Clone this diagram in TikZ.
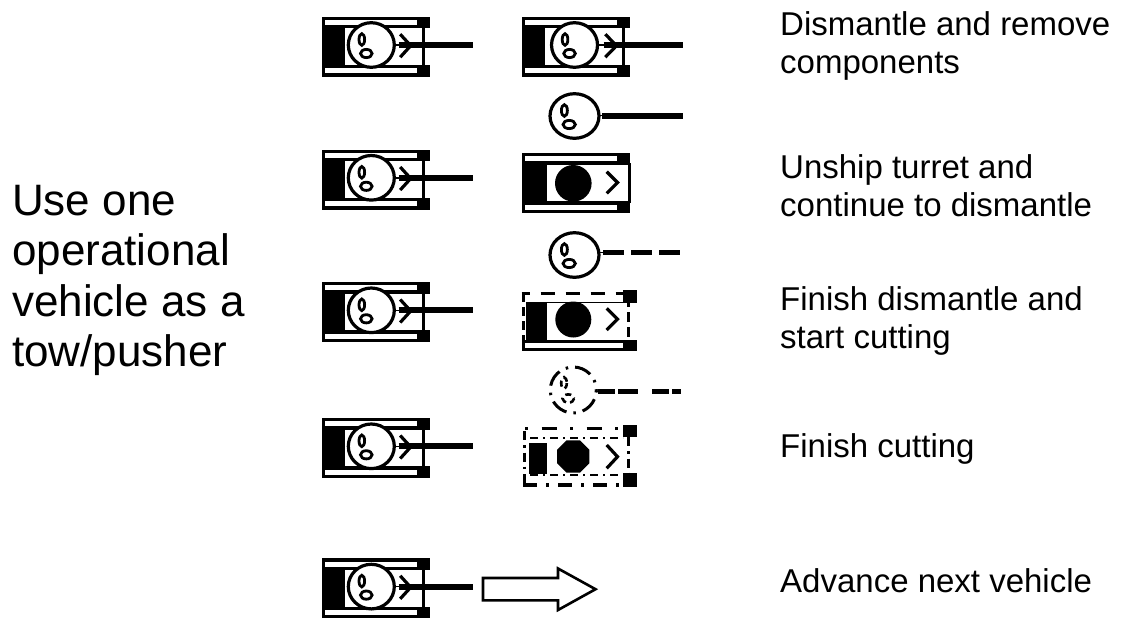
\documentclass[tikz,border=0pt]{standalone}
\usepackage{fontspec}
\setmainfont{Liberation Sans}
\tikzset{
  pics/track/.style={code={
    \draw[line width=3.4pt, fill=white] (1.7,1.7) rectangle (106,10);
    \fill (95,0) rectangle (108,11.7);
  }},
  pics/hull/.style={code={
    \pic at (0,0) {track};
    \pic at (0,48.3) {track};
    \fill (0,10) rectangle (23.4,50);
    \draw[line width=3pt] (101.5,10) -- (101.5,50);
  }},
  pics/turret/.style={code={
    \draw[line width=3.2pt, fill=white] (0,0) ellipse[x radius=23, y radius=22.3];
    \draw[line width=2.8pt] (-9.5,-5.5) ellipse[x radius=2.8, y radius=5.8];
    \draw[line width=2.8pt] (-5,8.5) ellipse[x radius=5.8, y radius=4.1];
  }},
  pics/tank/.style={code={
    \pic at (0,0) {hull};
    \draw[line width=3.2pt] (78.5,17.5) -- (89,29) -- (78.5,40.5);
    \pic at (49.6,28.3) {turret};
    \draw[line width=1.6pt] (72,28.3) -- (78,28.3);
    \draw[line width=6pt] (77,28.3) -- (151.3,28.3);
  }},
}
\begin{document}
\begin{tikzpicture}[x=1pt,y=-1pt,
  lbl/.style={anchor=base west, inner sep=0pt, align=left, font=\fontsize{33}{38}\selectfont},
  lblbig/.style={anchor=base west, inner sep=0pt, align=left, font=\fontsize{44}{50.5}\selectfont},
  barrel/.style={line width=6pt},
  neck/.style={line width=1.6pt},
  chev/.style={line width=3.2pt},
  dashdot/.style={dash pattern=on 9pt off 5pt on 2.5pt off 5pt},
  thindd/.style={line width=1.4pt, dash pattern=on 8pt off 5pt on 2pt off 5pt}]
\useasboundingbox (0,0) rectangle (1121,619);
\fill[white] (0,0) rectangle (1121,619);

% ---- left column: operational tow/pusher vehicles
\pic at (321.7,16.7) {tank};
\pic at (321.7,149.5) {tank};
\pic at (321.7,282) {tank};
\pic at (321.7,418) {tank};
\pic at (321.7,558.3) {tank};

% ---- right column
% row 1: complete vehicle
\pic[xscale=1.065] at (521.7,16.7) {tank};
% turret removed
\pic[xscale=1.065] at (574.5,116) {turret};
\draw[neck] (598,115.5) -- (604,115.5);
\draw[barrel] (602,115.5) -- (683,115.5);

% row 2: hull without turret
\pic[xscale=1.065] at (521.7,153) {hull};
\fill (573.3,183.3) circle[radius=18.3];
\draw[chev] (606.7,171.7) -- (617.5,182.5) -- (606.7,193.3);

% turret with dashed barrel
\pic[xscale=1.065] at (574.5,255) {turret};
\draw[neck] (598,252.5) -- (604,252.5);
\draw[line width=5pt, dash pattern=on 21pt off 7pt] (603,252.5) -- (682,252.5);

% row 3: dashed hull
\draw[line width=3.3pt, dash pattern=on 14pt off 11pt, dash phase=6pt] (521.7,293.3) -- (623,293.3);
\fill (623.3,290) rectangle (636.7,303.3);
\draw[line width=0.8pt] (540,302) -- (623.3,302);
\fill (526,302) rectangle (546.7,340);
\draw[line width=3.3pt, dash pattern=on 9pt off 5pt] (523.3,293) -- (523.3,340);
\draw[line width=3pt, dash pattern=on 10pt off 5pt] (628.3,297) -- (628.3,340);
\fill (573.3,319.5) circle[radius=18];
\draw[chev] (606.7,308.3) -- (617.5,319.2) -- (606.7,330);
\draw[line width=3.2pt, fill=white] (523.3,341.6) rectangle (634,349.1);
\fill (623.3,340) rectangle (636.7,350.7);

% dash-dot turret
\draw[line width=3pt, dash pattern=on 2.5pt off 7pt on 17pt off 7pt] (573.3,390) circle[radius=23];
\draw[line width=2.6pt, dash pattern=on 6pt off 4pt] (564,383) ellipse[x radius=2.8, y radius=5.8];
\draw[line width=2.6pt, dash pattern=on 6pt off 4pt] (568.3,398.5) ellipse[x radius=5.8, y radius=4.1];
\draw[neck] (596,391.5) -- (601,391.5);
\draw[line width=5pt, dash pattern=on 17pt off 3pt on 20pt off 14pt] (598,391.5) -- (681,391.5);

% row 4: dash-dot hull
\begin{scope}[line width=3.2pt]
  \draw[dash pattern=on 3pt off 13.5pt on 15pt off 13.5pt] (525,428.3) -- (623,428.3);
  \draw[thindd] (530,438) -- (623,438);
  \draw[dashdot] (524.5,431) -- (524.5,483);
  \draw[dashdot] (628.3,437) -- (628.3,474);
  \draw[thindd] (530,475) -- (623,475);
  \draw[dash pattern=on 14pt off 9pt on 3pt off 9pt] (523,485) -- (623,485);
\end{scope}
\fill (623.3,425) rectangle (636.7,437);
\fill (623.3,473.3) rectangle (636.7,486.7);
\fill (528.5,443) rectangle (546.7,474);
\fill[shift={(573.3,456.5)}] (22.5:17.5) -- (67.5:17.5) -- (112.5:17.5) -- (157.5:17.5)
  -- (202.5:17.5) -- (247.5:17.5) -- (292.5:17.5) -- (337.5:17.5) -- cycle;
\draw[chev] (606.7,445) -- (617.5,456.7) -- (606.7,468.3);

% row 5: hollow advance arrow
\draw[line width=2.6pt, line join=miter, fill=white] (483,578) -- (558,578) -- (558,568.5)
  -- (595.5,589.2) -- (558,610) -- (558,600.4) -- (483,600.4) -- cycle;

% ---- texts (anchored at the baseline of their last line)
\node[lblbig] (usetext) at (12,366.5) {Use one\\operational\\vehicle as a\\tow/pusher};
\node[lbl] (t1) at (780,73) {Dismantle and remove\\components};
\node[lbl] (t2) at (780,216) {Unship turret and\\continue to dismantle};
\node[lbl] (t3) at (780,348) {Finish dismantle and\\start cutting};
\node[lbl] (t4) at (780,457) {Finish cutting};
\node[lbl] (t5) at (780,592) {Advance next vehicle};
\end{tikzpicture}
\end{document}
